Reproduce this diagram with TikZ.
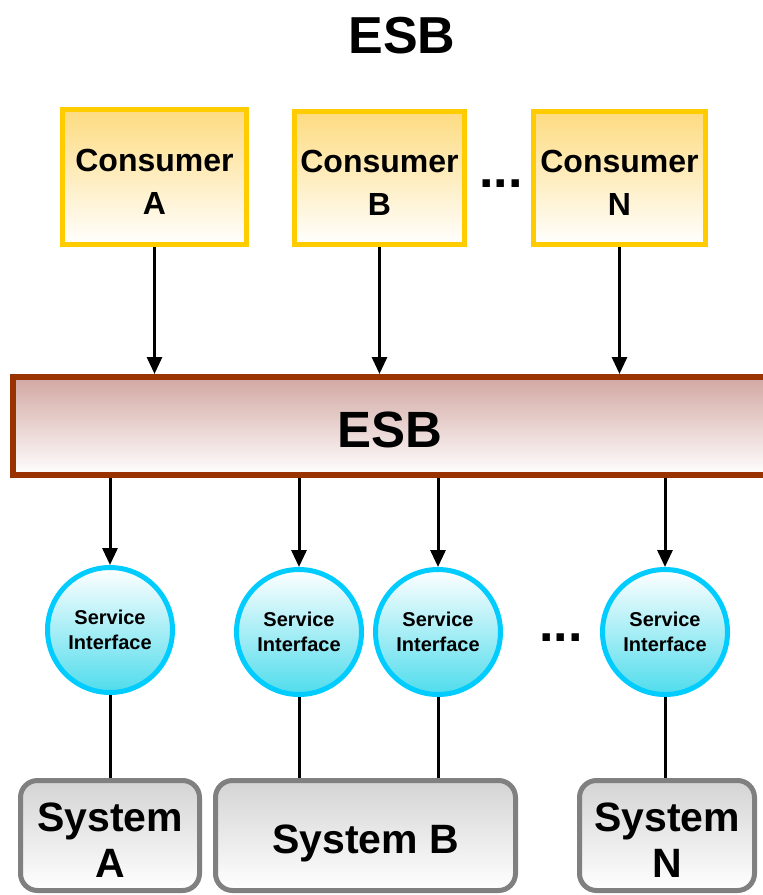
\documentclass[tikz,border=0pt]{standalone}
\usepackage{fontspec}
\setmainfont{Liberation Sans}
\usetikzlibrary{arrows.meta}

\definecolor{consumerEdge}{HTML}{FFCC00}
\definecolor{consumerTop}{HTML}{FDDB80}
\definecolor{busEdge}{HTML}{993300}
\definecolor{busTop}{HTML}{D2A7A2}
\definecolor{ifaceEdge}{HTML}{00CCFF}
\definecolor{ifaceBottom}{HTML}{4FDCEC}
\definecolor{sysEdge}{HTML}{808080}
\definecolor{sysTop}{HTML}{D4D4D4}

\tikzset{
  consumer/.style={draw=consumerEdge, line width=5pt, top color=consumerTop,
    bottom color=white, inner sep=0pt},
  consumertext/.style={align=center, inner sep=0pt,
    font=\fontsize{32}{43}\selectfont\bfseries},
  bus/.style={draw=busEdge, line width=6pt, top color=busTop, bottom color=white,
    inner sep=0pt},
  iface/.style={circle, draw=ifaceEdge, line width=5pt, top color=white,
    bottom color=ifaceBottom, minimum size=125pt, inner sep=0pt, align=center,
    font=\fontsize{20}{25}\selectfont\bfseries},
  system/.style={draw=sysEdge, line width=5pt, rounded corners=17pt,
    top color=sysTop, bottom color=white, inner sep=0pt, minimum height=110pt},
  systemtext/.style={align=center, inner sep=0pt,
    font=\fontsize{41}{46}\selectfont\bfseries},
  flow/.style={line width=3pt, -{Triangle[length=17pt,width=15pt]}},
  link/.style={line width=3pt},
  dots/.style={font=\fontsize{52}{52}\selectfont\bfseries, inner sep=0pt}
}

\begin{document}
\begin{tikzpicture}[x=1pt, y=-1pt]
  \clip (0,0) rectangle (763,895);

  % heading
  \node[font=\fontsize{52}{52}\selectfont\bfseries] (title) at (402,36) {ESB};

  % consumers
  \node[consumer, minimum width=184pt, minimum height=135pt] (conA) at (154.5,177) {};
  \node[consumer, minimum width=170pt, minimum height=133pt] (conB) at (379.5,178) {};
  \node[consumer, minimum width=172pt, minimum height=133pt] (conN) at (619.5,178) {};
  \node[consumertext] (conAtext) at (154.5,182) {Consumer\\A};
  \node[consumertext] (conBtext) at (379.5,183) {Consumer\\B};
  \node[consumertext] (conNtext) at (619.5,183) {Consumer\\N};
  \node[dots] (cdots) at (501,184) {...};

  % the bus
  \node[bus, minimum width=790pt, minimum height=98pt] (esb) at (408,426) {};
  \node[font=\fontsize{51}{51}\selectfont\bfseries] (esblabel) at (390,430) {ESB};

  % service interfaces
  \node[iface] (siA)  at (110,630) {Service\\Interface};
  \node[iface] (siB1) at (299,632) {Service\\Interface};
  \node[iface] (siB2) at (438,632) {Service\\Interface};
  \node[iface] (siN)  at (665,632) {Service\\Interface};
  \node[dots] (idots) at (561,638) {...};

  % systems
  \node[system, minimum width=179pt] (sysA) at (110,835.5) {};
  \node[system, minimum width=300pt] (sysB) at (365.5,835.5) {};
  \node[system, minimum width=175pt] (sysN) at (667,835.5) {};
  \node[systemtext] (sysAtext) at (110,840) {System\\A};
  \node[systemtext] (sysBtext) at (365.5,843) {System B};
  \node[systemtext] (sysNtext) at (667,840) {System\\N};

  % consumers to bus
  \draw[flow] (conA.south) -- (conA.south |- esb.north);
  \draw[flow] (conB.south) -- (conB.south |- esb.north);
  \draw[flow] (conN.south) -- (conN.south |- esb.north);

  % bus to interfaces
  \draw[flow] (siA.north |- esb.south)  -- (siA.north);
  \draw[flow] (siB1.north |- esb.south) -- (siB1.north);
  \draw[flow] (siB2.north |- esb.south) -- (siB2.north);
  \draw[flow] (siN.north |- esb.south)  -- (siN.north);

  % interfaces to systems
  \draw[link] (siA.south)  -- (siA.south |- sysA.north);
  \draw[link] (siB1.south) -- (siB1.south |- sysB.north);
  \draw[link] (siB2.south) -- (siB2.south |- sysB.north);
  \draw[link] (siN.south)  -- (siN.south |- sysN.north);
\end{tikzpicture}
\end{document}
